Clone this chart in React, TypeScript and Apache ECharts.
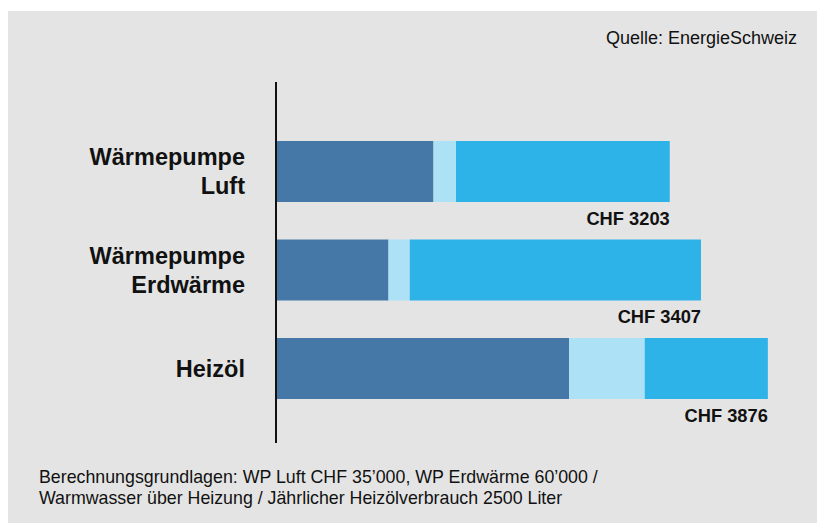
import React, { useEffect, useRef } from "react";
import * as echarts from "echarts";

const categories = ["Wärmepumpe\nLuft", "Wärmepumpe\nErdwärme", "Heizöl"];
const kapitalkosten = [1260, 900, 2345];
const unterhalt = [180, 170, 605];
const energiekosten = [1710, 2330, 985];
const totals = [3203, 3407, 3876];
const sourceText = "Quelle: EnergieSchweiz";
const footnoteLines = [
  "Berechnungsgrundlagen: WP Luft CHF 35’000, WP Erdwärme 60’000 /",
  "Warmwasser über Heizung / Jährlicher Heizölverbrauch 2500 Liter",
];

const FONT = "'Liberation Sans', Arial, sans-serif";

export default function App() {
  const ref = useRef<HTMLDivElement>(null);
  useEffect(() => {
    if (!ref.current) return;
    const chart = echarts.init(ref.current, undefined, { renderer: "svg" });
    chart.setOption({
      animation: false,
      backgroundColor: "#e4e4e4",
      textStyle: { fontFamily: FONT },
      grid: { left: 268, right: 41, top: 111.25, bottom: 105.25, containLabel: false },
      xAxis: {
        type: "value",
        min: 0,
        max: 4000,
        show: false,
      },
      yAxis: {
        type: "category",
        data: categories,
        inverse: true,
        axisLine: { show: false },
        axisTick: { show: false },
        splitLine: { show: false },
        axisLabel: {
          margin: 31,
          color: "#111",
          fontWeight: "bold",
          fontSize: 23.5,
          lineHeight: 29,
          fontFamily: FONT,
          align: "right",
        },
      },
      series: [
        {
          name: "Kapitalkosten",
          type: "bar",
          stack: "total",
          barWidth: 61,
          data: kapitalkosten,
          itemStyle: { color: "#4578a7" },
        },
        {
          name: "Unterhalt",
          type: "bar",
          stack: "total",
          barWidth: 61,
          data: unterhalt,
          itemStyle: { color: "#ade1f6" },
        },
        {
          name: "Energiekosten",
          type: "bar",
          stack: "total",
          barWidth: 61,
          data: energiekosten,
          itemStyle: { color: "#2eb3e9" },
          label: {
            show: true,
            position: ["100%", "100%"],
            align: "right",
            verticalAlign: "top",
            offset: [0, 7],
            formatter: (p: any) => "CHF " + totals[p.dataIndex],
            color: "#111",
            fontWeight: "bold",
            fontSize: 18.3,
            fontFamily: FONT,
          },
        },
      ],
      graphic: [
        {
          type: "line",
          z: 100,
          shape: { x1: 268, y1: 71, x2: 268, y2: 432 },
          style: { stroke: "#111", lineWidth: 2 },
        },
        {
          type: "text",
          right: 20,
          top: 18,
          style: {
            text: sourceText,
            fill: "#111",
            font: `18px ${FONT}`,
          },
        },
        {
          type: "text",
          left: 31,
          top: 455.5,
          style: {
            text: footnoteLines.join("\n"),
            fill: "#111",
            font: `17.8px ${FONT}`,
            lineHeight: 21,
          },
        },
      ],
    });
    return () => chart.dispose();
  }, []);
  return (
    <div
      ref={ref}
      style={{ position: "absolute", left: 8, top: 11, width: 809, height: 512 }}
    />
  );
}
